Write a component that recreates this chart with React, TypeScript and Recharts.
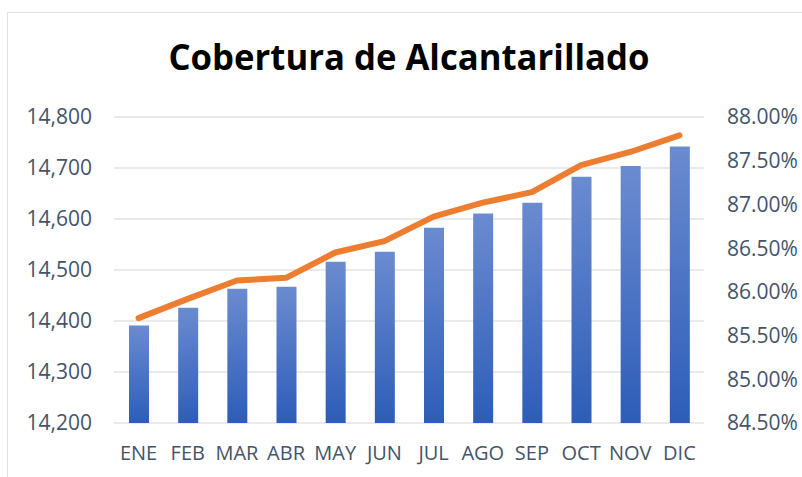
import { ComposedChart, Bar, Line, XAxis, YAxis, CartesianGrid } from 'recharts'

const months = ['ENE', 'FEB', 'MAR', 'ABR', 'MAY', 'JUN', 'JUL', 'AGO', 'SEP', 'OCT', 'NOV', 'DIC']
const conexiones = [14391, 14426, 14463, 14467, 14516, 14536, 14583, 14611, 14632, 14683, 14704, 14742]
const cobertura = [85.7, 85.92, 86.13, 86.16, 86.45, 86.58, 86.86, 87.02, 87.14, 87.45, 87.6, 87.79]
const leftTicks = [14200, 14300, 14400, 14500, 14600, 14700, 14800]
const rightTicks = [84.5, 85, 85.5, 86, 86.5, 87, 87.5, 88]

const chartData = months.map((m, i) => ({ name: m, conexiones: conexiones[i], cobertura: cobertura[i] }))

const xTickStyle = { fontFamily: 'Open Sans', fontSize: 20, fill: '#44546A' }
const yTickStyle = { fontFamily: 'Open Sans', fontSize: 21, fill: '#44546A' }

export default function App() {
  return (
    <div style={{ position: 'absolute', left: 0, top: 0, width: 802, height: 477, background: '#fff', overflow: 'hidden' }}>
      {/* chart frame */}
      <div style={{ position: 'absolute', left: 7, top: 12, width: 820, height: 500, borderLeft: '1.5px solid #DDDFE2', borderTop: '1.5px solid #DDDFE2' }} />
      <svg width={802} height={100} style={{ position: 'absolute', left: 0, top: 0 }}>
        <text
          x={409}
          y={70}
          textAnchor="middle"
          textLength={481}
          lengthAdjust="spacingAndGlyphs"
          style={{ fontFamily: 'Open Sans', fontWeight: 700, fontSize: 35, fill: '#000' }}
        >
          Cobertura de Alcantarillado
        </text>
      </svg>
      <div style={{ position: 'absolute', left: 0, top: 0 }}>
        <ComposedChart width={802} height={477} data={chartData} margin={{ top: 117, right: 0, bottom: 0, left: 0 }}>
          <defs>
            <linearGradient id="barGrad" x1="0" y1="0" x2="0" y2="1">
              <stop offset="0%" stopColor="#6B8BD0" />
              <stop offset="100%" stopColor="#2D5DB8" />
            </linearGradient>
          </defs>
          <CartesianGrid vertical={false} stroke="#E1E3E6" strokeWidth={1.5} yAxisId="left" />
          <XAxis
            dataKey="name"
            axisLine={false}
            tickLine={false}
            tickSize={0}
            tickMargin={23}
            height={54}
            interval={0}
            tick={xTickStyle}
          />
          <YAxis
            yAxisId="left"
            orientation="left"
            width={114}
            domain={[14200, 14800]}
            ticks={leftTicks}
            axisLine={false}
            tickLine={false}
            tickSize={0}
            tickMargin={22}
            tick={yTickStyle}
            tickFormatter={(v: number) => v.toLocaleString('en-US')}
          />
          <YAxis
            yAxisId="right"
            orientation="right"
            width={98}
            domain={[84.5, 88]}
            ticks={rightTicks}
            axisLine={false}
            tickLine={false}
            tickSize={0}
            tickMargin={23}
            tick={yTickStyle}
            tickFormatter={(v: number) => v.toFixed(2) + '%'}
          />
          <Bar yAxisId="left" dataKey="conexiones" fill="url(#barGrad)" barSize={20} isAnimationActive={false} />
          <Line
            yAxisId="right"
            type="linear"
            dataKey="cobertura"
            stroke="#ED7D31"
            strokeWidth={6}
            strokeLinecap="round"
            strokeLinejoin="round"
            dot={false}
            activeDot={false}
            isAnimationActive={false}
          />
        </ComposedChart>
      </div>
    </div>
  )
}
